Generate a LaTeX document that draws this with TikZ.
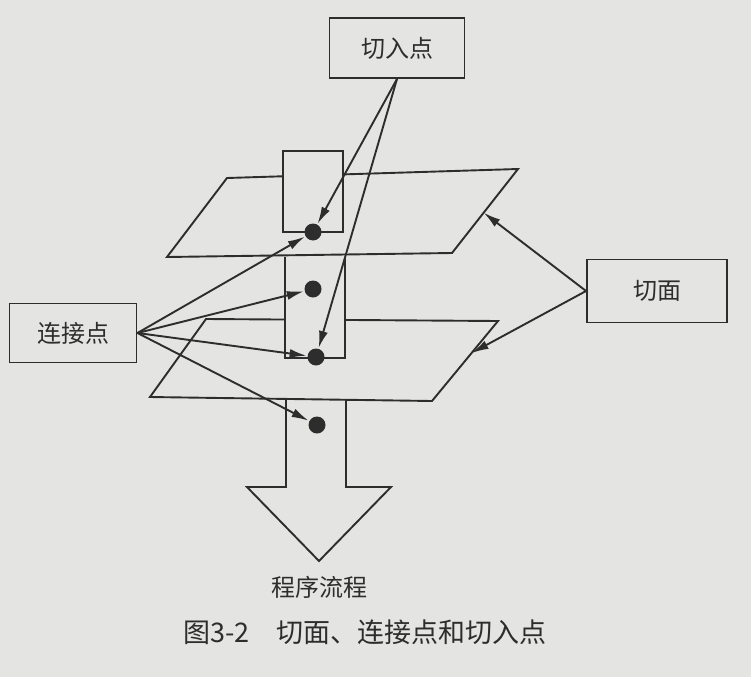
\documentclass[tikz,border=0pt]{standalone}
\usepackage{fontspec}
\setmainfont{Noto Sans CJK SC}
\usetikzlibrary{arrows.meta,positioning,calc}

\definecolor{paper}{RGB}{228,228,226}
\definecolor{ink}{RGB}{45,45,45}

\begin{document}
\begin{tikzpicture}[
    x=1pt, y=-1pt,
    line width=1.9pt,
    color=ink,
    namebox/.style={draw, minimum height=60pt, font=\fontsize{24}{24}\selectfont},
    joinpt/.style={circle, fill=ink, inner sep=0pt, minimum size=17pt},
    link/.style={draw, -{Latex[length=17pt,width=9pt]}}
]
    % page
    \fill[paper] (0,0) rectangle (751,677);
    \useasboundingbox (0,0) rectangle (751,677);

    % planes
    \coordinate (u1) at (227,178);
    \coordinate (u2) at (518,169);
    \coordinate (u3) at (452,253);
    \coordinate (u4) at (167,257);
    \coordinate (l1) at (206,319);
    \coordinate (l2) at (498,321);
    \coordinate (l3) at (432,401);
    \coordinate (l4) at (150,397);
    \coordinate (ua) at ($(u2)!0.52!(u3)$);
    \coordinate (la) at ($(l2)!0.40!(l3)$);

    % program flow arrow, lowest part
    \draw (286,399) -- (286,487) -- (247,487) -- (319,561) -- (391,487) -- (346,487) -- (346,400);

    \draw (l1) -- (l2) -- (l3) -- (l4) -- cycle;

    % column between the planes
    \fill[paper] (285,257) rectangle (345,358);
    \draw (285,257) -- (285,358) -- (345,358) -- (345,257);

    \draw (u1) -- (u2) -- (u3) -- (u4) -- cycle;

    % column above the upper plane
    \draw[fill=paper] (283,151) rectangle (343,232);

    % join points
    \node[joinpt] (p1) at (313,232) {};
    \node[joinpt] (p2) at (313,289) {};
    \node[joinpt] (p3) at (316,357) {};
    \node[joinpt] (p4) at (317,425) {};

    % labels
    \node[namebox, minimum width=135pt] (entry) at (397,48) {切入点};
    \node[namebox, minimum width=127pt, minimum height=59pt] (joint) at (73,333) {连接点};
    \node[namebox, minimum width=140pt, minimum height=63pt] (aspect) at (657,291) {切面};
    \node[font=\fontsize{24}{24}\selectfont] (flow) at (319,587) {程序流程};
    \node[font=\fontsize{27}{27}\selectfont] (caption) at (365,632) {图3-2\quad 切面、连接点和切入点};

    % connectors
    \draw[link] (entry.south) -- (p1);
    \draw[link] (entry.south) -- (p3);
    \draw[link] (joint.east) -- (p1);
    \draw[link] (joint.east) -- (p2);
    \draw[link] (joint.east) -- (p3);
    \draw[link] (joint.east) -- (p4);
    \draw[link] (aspect.west) -- (ua);
    \draw[link] (aspect.west) -- (la);
\end{tikzpicture}
\end{document}
